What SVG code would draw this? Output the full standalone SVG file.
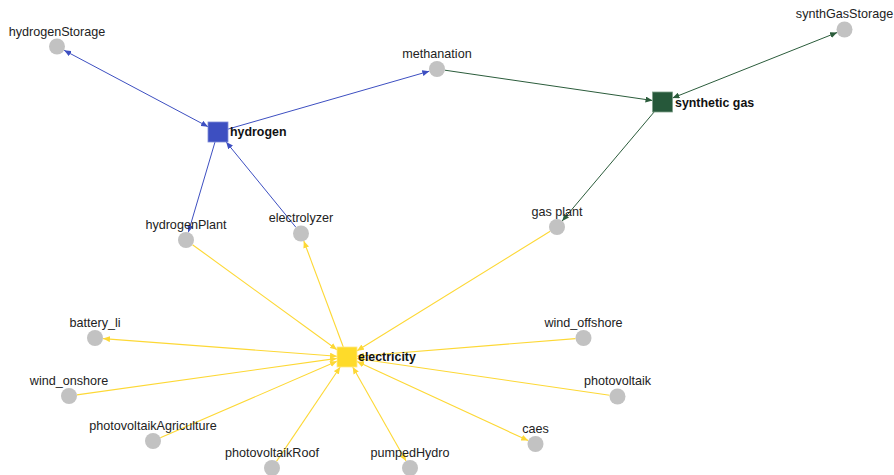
<svg xmlns="http://www.w3.org/2000/svg" width="894" height="475" viewBox="0 0 894 475">
<style>
.lbl{font-family:"Liberation Sans",Arial,sans-serif;font-size:12.6px;fill:#222;text-anchor:middle}
.hub{font-family:"Liberation Sans",Arial,sans-serif;font-size:12.4px;font-weight:bold;fill:#111}
.proc{fill:#c2c2c2}
.eb{stroke:#3d4fc1;stroke-width:1;fill:none}
.eg{stroke:#2b5c3b;stroke-width:1;fill:none}
.ey{stroke:#fdd835;stroke-width:1.1;fill:none}
.b1{marker-end:url(#ab)}
.b2{marker-start:url(#ab);marker-end:url(#ab)}
.g1{marker-end:url(#ag)}
.g2{marker-start:url(#ag);marker-end:url(#ag)}
.y1{marker-end:url(#ay)}
.y2{marker-start:url(#ay);marker-end:url(#ay)}
</style>
<defs>
<marker id="ab" markerUnits="userSpaceOnUse" markerWidth="7" markerHeight="6" refX="7" refY="3" orient="auto-start-reverse"><path d="M0,0 L7,3 L0,6 z" fill="#3d4fc1"/></marker>
<marker id="ag" markerUnits="userSpaceOnUse" markerWidth="7" markerHeight="6" refX="7" refY="3" orient="auto-start-reverse"><path d="M0,0 L7,3 L0,6 z" fill="#2b5c3b"/></marker>
<marker id="ay" markerUnits="userSpaceOnUse" markerWidth="7" markerHeight="6" refX="7" refY="3" orient="auto-start-reverse"><path d="M0,0 L7,3 L0,6 z" fill="#fdd835"/></marker>
</defs>
<rect width="894" height="475" fill="#fff"/>
<g id="connectors">
<line class="eb b2" x1="208" y1="126.7" x2="64.1" y2="50.3"/>
<line class="eb b1" x1="228" y1="129.1" x2="429.3" y2="71.2"/>
<line class="eg g1" x1="444.9" y1="70.2" x2="652.5" y2="100.5"/>
<line class="eg g2" x1="672.5" y1="98" x2="837.1" y2="32.5"/>
<line class="eg g1" x1="654.1" y1="112" x2="562.2" y2="220.9"/>
<line class="eb b1" x1="215" y1="142" x2="188.3" y2="232.3"/>
<line class="eb b1" x1="295.9" y1="227.3" x2="226.2" y2="142"/>
<line class="ey y1" x1="343.3" y1="347" x2="303.8" y2="241"/>
<line class="ey y1" x1="192.5" y1="244.7" x2="337" y2="349.7"/>
<line class="ey y1" x1="550.2" y1="231.2" x2="357" y2="350.8"/>
<line class="ey y2" x1="337" y1="356.2" x2="103" y2="338.6"/>
<line class="ey y1" x1="76.9" y1="394.9" x2="337" y2="358.4"/>
<line class="ey y1" x1="160.3" y1="437.8" x2="337" y2="361.3"/>
<line class="ey y1" x1="276.5" y1="461.4" x2="340.2" y2="367"/>
<line class="ey y2" x1="352.7" y1="367" x2="406" y2="461"/>
<line class="ey y2" x1="357" y1="361.6" x2="528.2" y2="440.6"/>
<line class="ey y1" x1="609.6" y1="395.3" x2="357" y2="358.5"/>
<line class="ey y1" x1="575.5" y1="338.6" x2="357" y2="356.2"/>
</g>
<g id="hydrogen"><rect x="208" y="122" width="20" height="20" fill="#3d4fc1" stroke="#7f8cd8" stroke-width="0.8"/><text class="hub" x="230" y="136">hydrogen</text></g>
<g id="synthetic_gas"><rect x="652.5" y="92" width="20" height="20" fill="#26583a" stroke="#7fa08a" stroke-width="0.8"/><text class="hub" x="675" y="106.5">synthetic gas</text></g>
<g id="electricity"><rect x="337" y="347" width="20" height="20" fill="#fedb2a" stroke="#fee98a" stroke-width="0.8"/><text class="hub" x="358" y="361">electricity</text></g>
<g id="hydrogenStorage"><circle class="proc" cx="57" cy="46.5" r="8"/><text class="lbl" x="57" y="35.5">hydrogenStorage</text></g>
<g id="methanation"><circle class="proc" cx="437" cy="69" r="8"/><text class="lbl" x="437" y="57.5">methanation</text></g>
<g id="synthGasStorage"><circle class="proc" cx="844.5" cy="29.5" r="8"/><text class="lbl" x="844.5" y="18">synthGasStorage</text></g>
<g id="hydrogenPlant"><circle class="proc" cx="186" cy="240" r="8"/><text class="lbl" x="186" y="229">hydrogenPlant</text></g>
<g id="electrolyzer"><circle class="proc" cx="301" cy="233.5" r="8"/><text class="lbl" x="301" y="222">electrolyzer</text></g>
<g id="gas_plant"><circle class="proc" cx="557" cy="227" r="8"/><text class="lbl" x="557" y="216">gas plant</text></g>
<g id="battery_li"><circle class="proc" cx="95" cy="338" r="8"/><text class="lbl" x="95" y="327">battery_li</text></g>
<g id="wind_onshore"><circle class="proc" cx="69" cy="396" r="8"/><text class="lbl" x="69" y="384.5">wind_onshore</text></g>
<g id="photovoltaikAgriculture"><circle class="proc" cx="153" cy="441" r="8"/><text class="lbl" x="153" y="429.5">photovoltaikAgriculture</text></g>
<g id="photovoltaikRoof"><circle class="proc" cx="272" cy="468" r="8"/><text class="lbl" x="272" y="457">photovoltaikRoof</text></g>
<g id="pumpedHydro"><circle class="proc" cx="410" cy="468" r="8"/><text class="lbl" x="410" y="457">pumpedHydro</text></g>
<g id="caes"><circle class="proc" cx="535.5" cy="444" r="8"/><text class="lbl" x="535.5" y="433">caes</text></g>
<g id="photovoltaik"><circle class="proc" cx="617.5" cy="396.5" r="8"/><text class="lbl" x="617.5" y="385">photovoltaik</text></g>
<g id="wind_offshore"><circle class="proc" cx="583.5" cy="338" r="8"/><text class="lbl" x="583.5" y="327">wind_offshore</text></g>
</svg>
